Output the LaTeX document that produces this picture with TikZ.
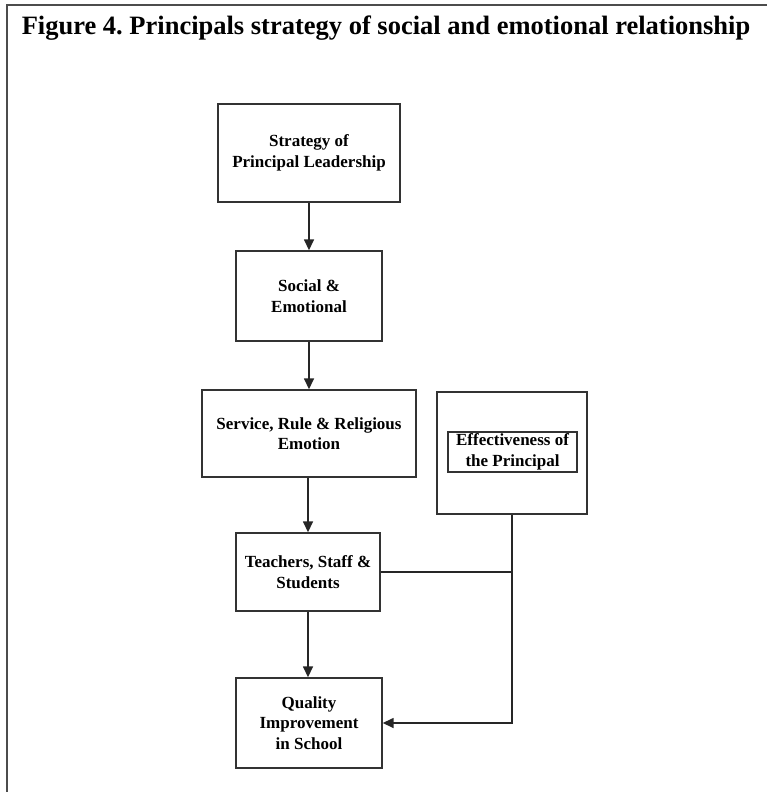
\documentclass[tikz,border=0pt]{standalone}
\usepackage{fontspec}
\setmainfont{Liberation Serif}
\usetikzlibrary{arrows.meta}
\tikzset{
  box/.style={draw=black!80, line width=1.4pt, align=center, inner sep=0pt,
    font=\fontsize{17}{20.5}\selectfont\bfseries},
  link/.style={draw=black!85, line width=1.5pt},
  tip/.style={link, -{Triangle[length=11pt,width=10pt]}}
}

\begin{document}
\frenchspacing
\begin{tikzpicture}[x=1pt,y=-1pt]
			%%%%% START %%%%%
			\useasboundingbox (0,0) rectangle (767,792);
			
			\draw[black!70, line width=1.4pt] (7,792) -- (7,5) -- (767,5);
			
			\node (title) at (386,28) {\fontsize{26.5}{30}\selectfont\bfseries Figure 4. Principals strategy of social and emotional relationship};
			
			\node[box, minimum width=182pt, minimum height=98pt] (spl) at (309,153) {Strategy of\\Principal Leadership};
			\node[box, minimum width=146pt, minimum height=90pt] (soc) at (309,296) {Social \&\\Emotional};
			\node[box, minimum width=214pt, minimum height=87pt] (srr) at (309,433.5) {Service, Rule \& Religious\\Emotion};
			\node[box, minimum width=144pt, minimum height=78pt] (tss) at (308,572) {Teachers, Staff \&\\Students};
			\node[box, minimum width=146pt, minimum height=90pt] (qis) at (309,723) {Quality\\Improvement\\in School};
			
			\node[box, minimum width=150pt, minimum height=122pt] (eff) at (512,453) {};
			\node[box, minimum width=129pt, minimum height=40pt] (effin) at (512.5,452) {Effectiveness of\\the Principal};
			
			\draw[tip] (spl.south) -- (soc.north);
			\draw[tip] (soc.south) -- (srr.north);
			\draw[tip] (srr.south -| tss.north) -- (tss.north);
			\draw[tip] (tss.south) -- (qis.north -| tss.south);
			
			\draw[link] (tss.east) -- (tss.east -| eff.south);
			\draw[tip] (eff.south) |- (qis.east);
			%%%%% END %%%%%
\end{tikzpicture}
\end{document}
